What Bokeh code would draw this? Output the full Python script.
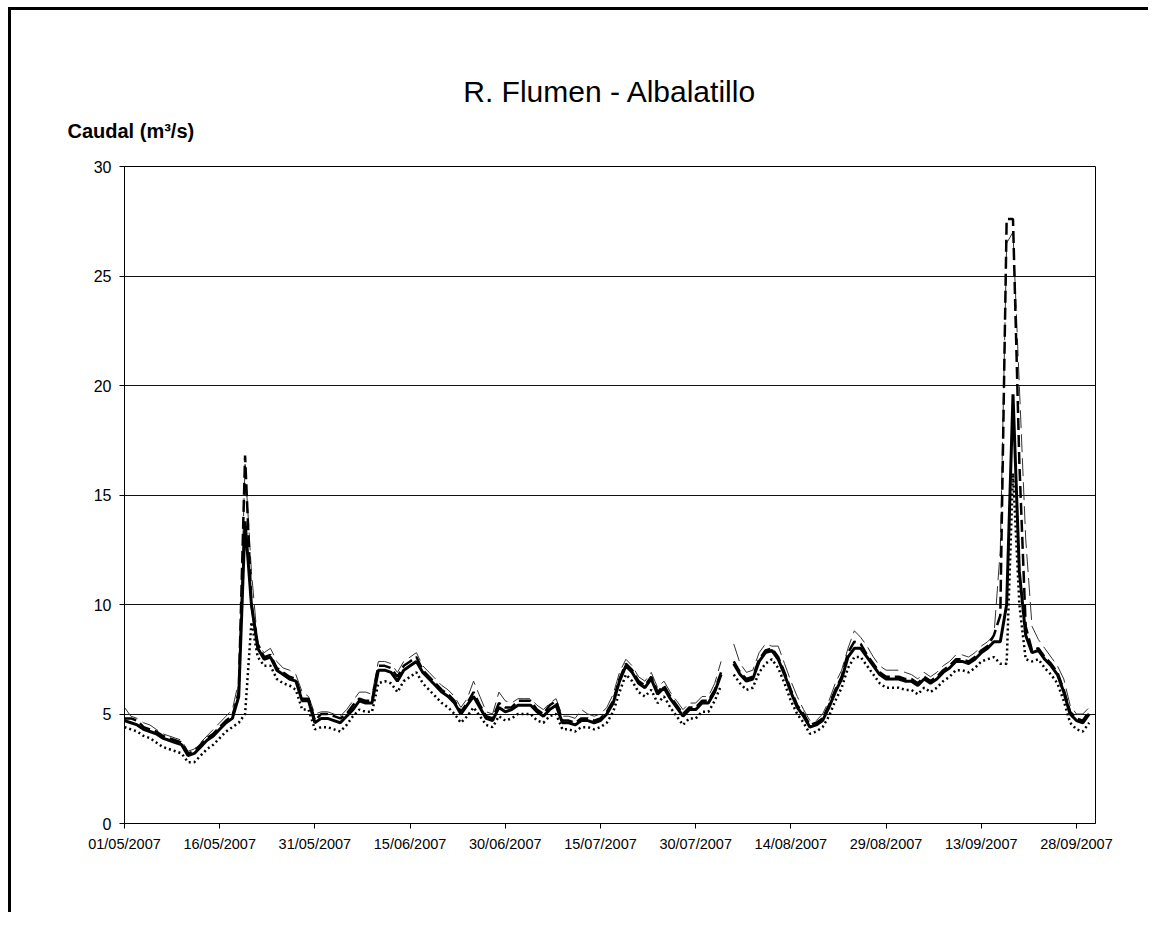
import numpy as np
import pandas as pd
from bokeh.plotting import figure
from bokeh.models import FixedTicker, Title, Range1d, DatetimeTickFormatter
from bokeh.embed import file_html
from bokeh.resources import INLINE

nan = float("nan")

title_text = "R. Flumen - Albalatillo"
ylabel_text = "Caudal (m³/s)"
start_date = "2007-05-01"
end_date = "2007-10-01"
tick_labels = ["01/05/2007", "16/05/2007", "31/05/2007", "15/06/2007", "30/06/2007",
               "15/07/2007", "30/07/2007", "14/08/2007", "29/08/2007", "13/09/2007",
               "28/09/2007"]
y_ticks = [0, 5, 10, 15, 20, 25, 30]

# solid thick series
serie_solid = [
    4.7, 4.6, 4.5, 4.3, 4.2, 4.1, 3.9, 3.8, 3.7, 3.6,
    3.1, 3.2, 3.5, 3.8, 4.0, 4.3, 4.6, 4.8, 5.8, 13.8,
    10.0, 8.0, 7.5, 7.6, 7.0, 6.8, 6.6, 6.5, 5.6, 5.6,
    4.6, 4.8, 4.8, 4.7, 4.6, 4.9, 5.2, 5.6, 5.5, 5.5,
    7.0, 7.0, 6.9, 6.5, 7.0, 7.2, 7.4, 6.9, 6.6, 6.3,
    6.0, 5.8, 5.5, 5.0, 5.4, 5.8, 5.3, 4.8, 4.7, 5.3,
    5.1, 5.2, 5.4, 5.4, 5.4, 5.1, 4.9, 5.2, 5.4, 4.6,
    4.6, 4.5, 4.7, 4.7, 4.6, 4.7, 5.0, 5.5, 6.5, 7.2,
    6.9, 6.4, 6.2, 6.6, 5.9, 6.2, 5.7, 5.3, 4.9, 5.2,
    5.2, 5.5, 5.5, 6.0, 6.8, nan, 7.3, 6.8, 6.5, 6.6,
    7.4, 7.8, 7.9, 7.5, 6.8, 6.0, 5.3, 4.9, 4.4, 4.5,
    4.7, 5.3, 6.0, 6.6, 7.6, 8.0, 8.0, 7.6, 7.2, 6.8,
    6.6, 6.6, 6.6, 6.5, 6.5, 6.3, 6.6, 6.4, 6.6, 6.9,
    7.1, 7.4, 7.4, 7.3, 7.5, 7.8, 8.0, 8.3, 8.3, 10.0,
    19.6, 11.5, 8.6, 7.8, 7.9, 7.5, 7.2, 6.8, 6.0, 5.0,
    4.7, 4.6, 5.0,
]

# thin long-dash series
serie_thin = [
    5.3, 4.9, 4.8, 4.6, 4.5, 4.3, 4.1, 4.0, 3.9, 3.8,
    3.3, 3.4, 3.7, 4.0, 4.3, 4.6, 4.9, 5.2, 6.5, 16.4,
    11.5, 8.2, 7.8, 8.0, 7.4, 7.1, 7.0, 6.8, 6.0, 5.8,
    5.0, 5.1, 5.1, 5.0, 4.9, 5.2, 5.6, 6.0, 6.0, 5.9,
    7.4, 7.4, 7.3, 6.9, 7.4, 7.6, 7.8, 7.2, 6.9, 6.6,
    6.3, 6.1, 5.8, 5.3, 5.7, 6.5, 5.8, 5.1, 5.0, 6.0,
    5.6, 5.5, 5.7, 5.7, 5.7, 5.4, 5.2, 5.5, 5.7, 4.9,
    4.9, 4.8, 5.2, 5.0, 4.9, 5.0, 5.3, 5.9, 6.9, 7.5,
    7.2, 6.7, 6.5, 6.9, 6.2, 6.5, 6.0, 5.6, 5.2, 5.5,
    5.5, 5.8, 5.8, 6.4, 7.4, nan, 8.2, 7.3, 6.9, 7.0,
    7.8, 8.2, 8.1, 8.1, 7.3, 6.5, 5.8, 5.2, 4.7, 4.7,
    5.0, 5.6, 6.4, 7.0, 8.0, 8.8, 8.5, 8.1, 7.6, 7.2,
    7.0, 7.0, 7.0, 6.9, 6.8, 6.6, 6.9, 6.7, 6.9, 7.2,
    7.4, 7.7, 7.7, 7.6, 7.8, 8.1, 8.3, 8.6, 12.5, 26.5,
    27.0, 20.0, 13.0, 9.0, 8.4, 8.0, 7.6, 7.2, 6.6, 5.4,
    5.0, 5.0, 5.3,
]

# thick dashed series
serie_dashed = [
    4.8, 4.8, 4.7, 4.4, 4.3, 4.2, 4.0, 3.9, 3.8, 3.7,
    3.2, 3.3, 3.6, 3.9, 4.1, 4.4, 4.7, 4.9, 6.0, 16.8,
    10.0, 8.2, 7.6, 7.7, 7.1, 6.9, 6.7, 6.6, 5.7, 5.7,
    4.7, 5.0, 5.0, 4.9, 4.8, 5.0, 5.4, 5.7, 5.6, 5.6,
    7.2, 7.2, 7.1, 6.7, 7.2, 7.4, 7.6, 7.0, 6.7, 6.4,
    6.1, 5.9, 5.6, 5.1, 5.5, 6.0, 5.4, 4.9, 4.8, 5.5,
    5.3, 5.3, 5.6, 5.6, 5.6, 5.2, 5.0, 5.4, 5.6, 4.7,
    4.7, 4.6, 4.8, 4.8, 4.7, 4.8, 5.1, 5.6, 6.6, 7.3,
    7.0, 6.5, 6.3, 6.7, 6.0, 6.3, 5.8, 5.4, 5.0, 5.3,
    5.3, 5.6, 5.6, 6.1, 6.9, nan, 7.4, 6.9, 6.6, 6.7,
    7.5, 7.9, 8.0, 7.6, 6.9, 6.1, 5.4, 5.0, 4.5, 4.6,
    4.8, 5.4, 6.1, 6.7, 7.8, 8.3, 8.2, 7.7, 7.3, 6.9,
    6.7, 6.7, 6.7, 6.6, 6.6, 6.4, 6.7, 6.5, 6.7, 7.0,
    7.2, 7.5, 7.5, 7.4, 7.6, 7.9, 8.1, 8.6, 9.5, 27.6,
    27.6, 16.5, 9.0, 7.9, 8.0, 7.6, 7.3, 6.9, 6.1, 5.1,
    4.8, 4.7, 5.1,
]

# dotted series
serie_dotted = [
    4.4, 4.3, 4.2, 4.0, 3.9, 3.7, 3.5, 3.4, 3.3, 3.2,
    2.8, 2.8, 3.1, 3.4, 3.6, 3.9, 4.2, 4.4, 4.6, 5.0,
    9.2, 7.6, 7.2, 7.2, 6.6, 6.4, 6.3, 6.1, 5.2, 5.2,
    4.3, 4.4, 4.4, 4.3, 4.2, 4.5, 4.9, 5.2, 5.1, 5.1,
    6.4, 6.5, 6.4, 6.0, 6.5, 6.7, 6.9, 6.4, 6.1, 5.8,
    5.5, 5.3, 5.0, 4.6, 4.9, 5.3, 4.9, 4.5, 4.4, 4.9,
    4.7, 4.8, 5.0, 5.0, 5.0, 4.7, 4.6, 4.9, 5.0, 4.3,
    4.3, 4.2, 4.4, 4.4, 4.3, 4.4, 4.6, 5.1, 6.0, 6.8,
    6.5, 6.0, 5.8, 6.1, 5.5, 5.8, 5.3, 4.9, 4.5, 4.8,
    4.8, 5.1, 5.1, 5.6, 6.3, nan, 6.8, 6.4, 6.1, 6.2,
    6.9, 7.3, 7.5, 7.1, 6.4, 5.6, 5.0, 4.6, 4.1, 4.2,
    4.4, 4.9, 5.6, 6.2, 7.1, 7.6, 7.6, 7.2, 6.8, 6.4,
    6.2, 6.2, 6.2, 6.1, 6.1, 5.9, 6.2, 6.0, 6.2, 6.5,
    6.7, 7.0, 7.0, 6.9, 7.1, 7.4, 7.5, 7.6, 7.3, 7.3,
    16.0, 10.0, 7.5, 7.4, 7.5, 7.1, 6.8, 6.4, 5.6, 4.6,
    4.3, 4.2, 4.6,
]

n = len(serie_solid)
dates = pd.date_range(start_date, periods=n, freq="D")

t0 = pd.Timestamp(start_date)
t1 = pd.Timestamp(end_date)
ms0 = t0.value / 1e6
ms1 = t1.value / 1e6

# layout (pixels)
W, H = 1140, 905
frame_l, frame_r, frame_t, frame_b = 124, 1095, 166, 823
org_x, org_y = 11, 10

p = figure(width=W, height=H, output_backend="svg", toolbar_location=None,
           x_axis_type="datetime",
           x_range=Range1d(ms0, ms1), y_range=Range1d(0, 30),
           min_border_left=frame_l - org_x, min_border_right=org_x + W - frame_r,
           min_border_top=frame_t - org_y, min_border_bottom=org_y + H - frame_b)
p.styles = {"margin-left": "8px", "margin-top": "7px",
            "border-top": "3px solid black", "border-left": "3px solid black"}
p.background_fill_color = "white"
p.border_fill_color = "white"
p.outline_line_color = "black"
p.outline_line_width = 1

# chart title (outer) and y-axis caption (next to the plot area)
p.title.text = title_text
p.title.align = "center"
p.title.offset = 583 - (frame_l + frame_r) / 2
p.title.text_font = "Liberation Sans"
p.title.text_font_size = "30px"
p.title.text_font_style = "normal"
p.title.text_color = "black"
p.title.standoff = -30
p.add_layout(Title(text=ylabel_text, align="left", text_font="Liberation Sans",
                   text_font_size="20px", text_font_style="bold", text_color="black",
                   offset=67 - frame_l, standoff=50), "above")

tick_dates = [pd.Timestamp(d[6:] + "-" + d[3:5] + "-" + d[0:2]) for d in tick_labels]
p.xaxis.ticker = FixedTicker(ticks=[t.value / 1e6 for t in tick_dates])
p.xaxis.formatter = DatetimeTickFormatter(days="%d/%m/%Y", months="%d/%m/%Y",
                                          years="%d/%m/%Y")
p.yaxis.ticker = FixedTicker(ticks=y_ticks)

for ax in (p.xaxis, p.yaxis):
    ax.axis_line_color = "black"
    ax.major_tick_line_color = "black"
    ax.major_tick_out = 5
    ax.major_tick_in = 0
    ax.minor_tick_line_color = None
    ax.major_label_text_font = "Liberation Sans"
    ax.major_label_text_color = "black"
p.xaxis.major_label_text_font_size = "14.5px"
p.yaxis.major_label_text_font_size = "16px"
p.xaxis.major_label_standoff = 7
p.yaxis.major_label_standoff = 8

p.xgrid.grid_line_color = None
p.ygrid.ticker = FixedTicker(ticks=y_ticks[1:-1])
p.ygrid.grid_line_color = "#111111"
p.ygrid.grid_line_width = 1

p.line(dates, serie_thin, line_color="#333333", line_width=1, line_dash="18 6")
p.line(dates, serie_dotted, line_color="black", line_width=2.5, line_dash="2 3")
p.line(dates, serie_dashed, line_color="black", line_width=2.5, line_dash="12 5")
p.line(dates, serie_solid, line_color="black", line_width=3)

open("out.html", "w").write(file_html(p, INLINE))
